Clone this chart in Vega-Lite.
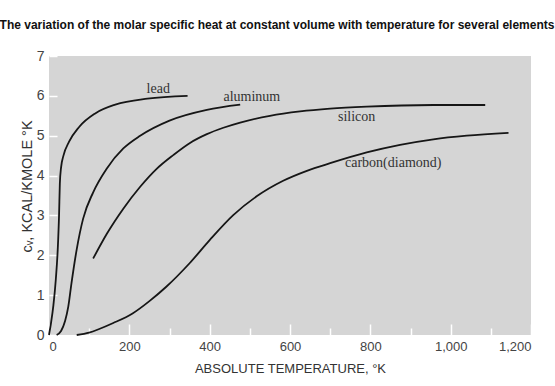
{
  "$schema": "https://vega.github.io/schema/vega-lite/v6.json",
  "width": 482,
  "height": 279,
  "autosize": {"type": "none"},
  "padding": {"left": 49, "top": 56, "right": 24, "bottom": 51},
  "background": "white",
  "title": {
    "text": "The variation of the molar specific heat at constant volume with temperature for several elements",
    "font": "Liberation Sans",
    "fontSize": 12,
    "fontWeight": "bold",
    "color": "#111111",
    "anchor": "middle",
    "dx": -13,
    "offset": 17
  },
  "config": {"view": {"fill": "#d5d5d5", "stroke": null}},
  "datasets": {
    "curves": [
      {"element": "lead", "T": 0, "cv": 0},
      {"element": "lead", "T": 5, "cv": 0.3},
      {"element": "lead", "T": 11, "cv": 0.75},
      {"element": "lead", "T": 17, "cv": 1.4},
      {"element": "lead", "T": 22, "cv": 2.2},
      {"element": "lead", "T": 25, "cv": 3.0},
      {"element": "lead", "T": 27, "cv": 3.8},
      {"element": "lead", "T": 30, "cv": 4.2},
      {"element": "lead", "T": 36, "cv": 4.5},
      {"element": "lead", "T": 50, "cv": 4.85},
      {"element": "lead", "T": 75, "cv": 5.22},
      {"element": "lead", "T": 115, "cv": 5.56},
      {"element": "lead", "T": 165, "cv": 5.78},
      {"element": "lead", "T": 245, "cv": 5.93},
      {"element": "lead", "T": 345, "cv": 6.0},
      {"element": "aluminum", "T": 19, "cv": 0},
      {"element": "aluminum", "T": 30, "cv": 0.1},
      {"element": "aluminum", "T": 40, "cv": 0.35},
      {"element": "aluminum", "T": 48, "cv": 0.71},
      {"element": "aluminum", "T": 56, "cv": 1.3},
      {"element": "aluminum", "T": 69, "cv": 2.15},
      {"element": "aluminum", "T": 85, "cv": 2.92},
      {"element": "aluminum", "T": 110, "cv": 3.58},
      {"element": "aluminum", "T": 144, "cv": 4.18},
      {"element": "aluminum", "T": 185, "cv": 4.68},
      {"element": "aluminum", "T": 227, "cv": 5.0},
      {"element": "aluminum", "T": 300, "cv": 5.38},
      {"element": "aluminum", "T": 393, "cv": 5.65},
      {"element": "aluminum", "T": 476, "cv": 5.78},
      {"element": "silicon", "T": 110, "cv": 1.92},
      {"element": "silicon", "T": 144, "cv": 2.54},
      {"element": "silicon", "T": 185, "cv": 3.17},
      {"element": "silicon", "T": 227, "cv": 3.72},
      {"element": "silicon", "T": 268, "cv": 4.17},
      {"element": "silicon", "T": 310, "cv": 4.52},
      {"element": "silicon", "T": 351, "cv": 4.82},
      {"element": "silicon", "T": 393, "cv": 5.04},
      {"element": "silicon", "T": 434, "cv": 5.2},
      {"element": "silicon", "T": 476, "cv": 5.33},
      {"element": "silicon", "T": 550, "cv": 5.5},
      {"element": "silicon", "T": 625, "cv": 5.61},
      {"element": "silicon", "T": 700, "cv": 5.68},
      {"element": "silicon", "T": 791, "cv": 5.73},
      {"element": "silicon", "T": 957, "cv": 5.77},
      {"element": "silicon", "T": 1086, "cv": 5.77},
      {"element": "carbon", "T": 69, "cv": 0},
      {"element": "carbon", "T": 100, "cv": 0.06},
      {"element": "carbon", "T": 125, "cv": 0.15},
      {"element": "carbon", "T": 160, "cv": 0.3},
      {"element": "carbon", "T": 208, "cv": 0.54},
      {"element": "carbon", "T": 250, "cv": 0.85},
      {"element": "carbon", "T": 292, "cv": 1.21},
      {"element": "carbon", "T": 350, "cv": 1.8},
      {"element": "carbon", "T": 400, "cv": 2.38},
      {"element": "carbon", "T": 458, "cv": 3.0},
      {"element": "carbon", "T": 517, "cv": 3.48},
      {"element": "carbon", "T": 583, "cv": 3.87},
      {"element": "carbon", "T": 642, "cv": 4.12},
      {"element": "carbon", "T": 700, "cv": 4.31},
      {"element": "carbon", "T": 791, "cv": 4.58},
      {"element": "carbon", "T": 874, "cv": 4.77},
      {"element": "carbon", "T": 957, "cv": 4.91},
      {"element": "carbon", "T": 1040, "cv": 5.0},
      {"element": "carbon", "T": 1144, "cv": 5.07}
    ],
    "labels": [
      {"label": "lead", "T": 272, "cv": 6.17},
      {"label": "aluminum", "T": 505, "cv": 5.96},
      {"label": "silicon", "T": 766, "cv": 5.46},
      {"label": "carbon(diamond)", "T": 857, "cv": 4.31}
    ]
  },
  "layer": [
    {
      "data": {"name": "curves"},
      "mark": {"type": "line", "color": "#161616", "strokeWidth": 1.8, "interpolate": "monotone"},
      "encoding": {
        "x": {
          "field": "T",
          "type": "quantitative",
          "scale": {"domain": [0, 1200], "nice": false, "zero": false},
          "axis": {
            "orient": "bottom",
            "values": [0, 200, 400, 600, 800, 1000, 1200],
            "format": ",.0f",
            "domain": false,
            "grid": false,
            "tickColor": "white",
            "tickSize": -11,
            "tickWidth": 1.5,
            "labelPadding": 16,
            "labelFont": "Liberation Sans",
            "labelFontSize": 13,
            "labelColor": "#444444",
            "title": "ABSOLUTE TEMPERATURE, °K",
            "titleFont": "Liberation Sans",
            "titleFontSize": 13,
            "titleFontWeight": "normal",
            "titleColor": "#333333",
            "titlePadding": 9
          }
        },
        "y": {
          "field": "cv",
          "type": "quantitative",
          "scale": {"domain": [0, 7], "nice": false},
          "axis": {
            "values": [0, 1, 2, 3, 4, 5, 6, 7],
            "domain": false,
            "grid": false,
            "tickColor": "white",
            "tickSize": -8,
            "tickWidth": 1.5,
            "labelPadding": 13,
            "labelFont": "Liberation Sans",
            "labelFontSize": 14,
            "labelColor": "#444444",
            "title": "cᵥ, KCAL/KMOLE °K",
            "titleFont": "Liberation Sans",
            "titleFontSize": 14.5,
            "titleFontWeight": "normal",
            "titleColor": "#333333",
            "titleBaseline": "middle",
            "titleX": -22,
            "titleY": 130
          }
        },
        "detail": {"field": "element", "type": "nominal"}
      }
    },
    {
      "data": {"name": "labels"},
      "mark": {"type": "text", "font": "Liberation Serif", "fontSize": 14, "color": "#333333", "align": "center", "baseline": "middle"},
      "encoding": {
        "x": {
          "field": "T",
          "type": "quantitative",
          "axis": {
            "orient": "bottom",
            "values": [100, 300, 500, 700, 900, 1100],
            "domain": false,
            "grid": false,
            "labels": false,
            "title": null,
            "tickColor": "white",
            "tickSize": -7,
            "tickWidth": 1.5
          }
        },
        "y": {"field": "cv", "type": "quantitative", "axis": null},
        "text": {"field": "label", "type": "nominal"}
      }
    }
  ],
  "resolve": {"axis": {"x": "independent", "y": "independent"}}
}
